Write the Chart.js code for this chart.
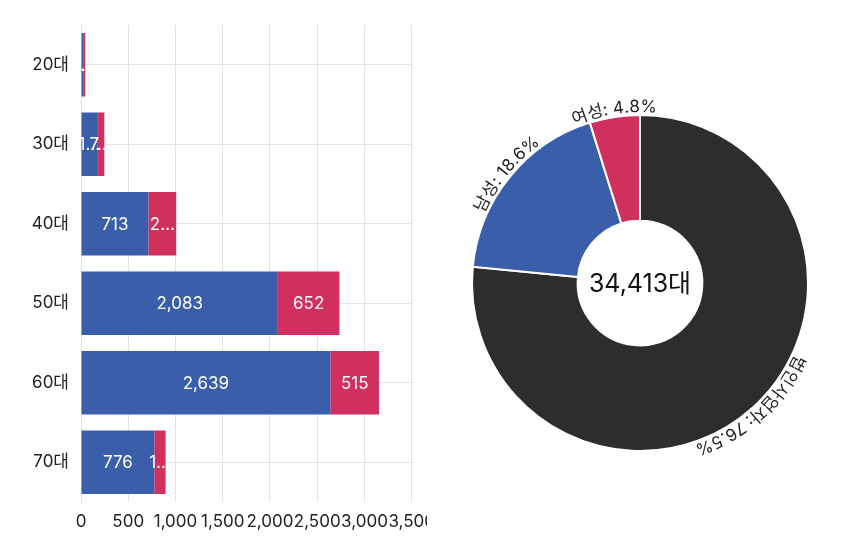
<!DOCTYPE html>
<html lang="ko">
<head>
    <meta charset="utf-8">
    <title>연령대별 / 성별 현황</title>
    <script src="https://cdn.jsdelivr.net/npm/chart.js"></script>
    <style>
        html, body { margin: 0; padding: 0; background: #fff; }
        body { width: 850px; height: 543px; position: relative; overflow: hidden; }
        .bars { position: absolute; left: 0; top: 0; width: 427px; height: 543px; overflow: hidden; }
        .bars canvas { position: absolute; left: 0; top: 0; }
        .donut { position: absolute; left: 430px; top: 0; width: 420px; height: 543px; }
    </style>
</head>
<body>
    <div class="bars">
        <canvas id="barChart" width="445" height="543"></canvas>
    </div>
    <div class="donut">
        <canvas id="donutChart" width="420" height="543"></canvas>
    </div>

    <script>
        // 연령대별 남/여
        const ageGroups = ['20대', '30대', '40대', '50대', '60대', '70대'];
        const maleCounts = [30, 170, 713, 2083, 2639, 776];
        const femaleCounts = [15, 77, 295, 652, 515, 119];

        // 전체 구성
        const ownerTypes = ['법인사업자', '남성', '여성'];
        const ownerCounts = [26342, 6411, 1660];
        const totalLabel = '34,413대';

        const BLUE = '#3a5ea9';
        const RED = '#d1305e';
        const DARK = '#2d2d2d';
        const FONT = "Inter, 'Noto Sans CJK KR', sans-serif";

        Chart.defaults.font.family = FONT;
        Chart.defaults.color = '#222';

        // 막대 안에 값 표시 (좁으면 … 로 줄임)
        const barLabels = {
            id: 'barLabels',
            afterDatasetsDraw(chart) {
                const ctx = chart.ctx;
                ctx.save();
                ctx.font = '17px ' + FONT;
                ctx.fillStyle = '#fff';
                ctx.textAlign = 'center';
                ctx.textBaseline = 'middle';
                chart.data.datasets.forEach(function (ds, i) {
                    chart.getDatasetMeta(i).data.forEach(function (bar, j) {
                        const full = ds.data[j].toLocaleString('en-US');
                        const w = Math.abs(bar.x - bar.base);
                        let txt = full;
                        if (ctx.measureText(full).width > w - 8) {
                            for (let n = full.length - 1; n >= 1; n--) {
                                txt = full.slice(0, n) + '…';
                                if (ctx.measureText(txt).width <= w - 8) break;
                            }
                        }
                        ctx.fillText(txt, (bar.x + bar.base) / 2, bar.y + 1);
                    });
                });
                ctx.restore();
            }
        };

        new Chart(document.getElementById('barChart'), {
            type: 'bar',
            data: {
                labels: ageGroups,
                datasets: [
                    { label: '남성', data: maleCounts, backgroundColor: BLUE, barPercentage: 1, categoryPercentage: 0.8 },
                    { label: '여성', data: femaleCounts, backgroundColor: RED, barPercentage: 1, categoryPercentage: 0.8 }
                ]
            },
            options: {
                indexAxis: 'y',
                responsive: false,
                animation: false,
                layout: { padding: { top: 25, right: 29, bottom: 0, left: 0 } },
                plugins: { legend: { display: false }, tooltip: { enabled: false } },
                scales: {
                    x: {
                        stacked: true,
                        min: 0,
                        max: 3500,
                        ticks: { stepSize: 500, padding: 10, color: '#222', font: { size: 17 },
                                 maxRotation: 0, minRotation: 0, autoSkip: false },
                        grid: { color: '#e3e3e3', drawTicks: false },
                        border: { display: false },
                        afterFit: function (scale) { scale.height = 41; }
                    },
                    y: {
                        stacked: true,
                        ticks: { padding: 12, color: '#222', font: { size: 17 } },
                        grid: { color: '#e3e3e3', drawTicks: false, offset: false },
                        border: { color: '#e3e3e3' },
                        afterFit: function (scale) { scale.width = 81; }
                    }
                }
            },
            plugins: [barLabels]
        });

        // 도넛 바깥쪽 곡선 라벨 + 가운데 합계
        const arcLabels = {
            id: 'arcLabels',
            afterDatasetsDraw(chart) {
                const ctx = chart.ctx;
                const meta = chart.getDatasetMeta(0);
                const data = chart.data.datasets[0].data;
                const sum = data.reduce(function (a, b) { return a + b; }, 0);
                ctx.save();
                ctx.font = '17px ' + FONT;
                ctx.fillStyle = '#222';
                ctx.textAlign = 'center';
                ctx.textBaseline = 'alphabetic';
                meta.data.forEach(function (arc, i) {
                    const text = chart.data.labels[i] + ': ' + (data[i] / sum * 100).toFixed(1) + '%';
                    const r = arc.outerRadius + 3;
                    const mid = (arc.startAngle + arc.endAngle) / 2;
                    const total = ctx.measureText(text).width;
                    let acc = 0;
                    for (const ch of text) {
                        const cw = ctx.measureText(ch).width;
                        const a = mid - total / (2 * r) + (acc + cw / 2) / r;
                        ctx.save();
                        ctx.translate(arc.x + Math.cos(a) * r, arc.y + Math.sin(a) * r);
                        ctx.rotate(a + Math.PI / 2);
                        ctx.fillText(ch, 0, 0);
                        ctx.restore();
                        acc += cw;
                    }
                });
                const c = meta.data[0];
                ctx.font = '25px ' + FONT;
                ctx.fillStyle = '#111';
                ctx.textBaseline = 'middle';
                ctx.fillText(totalLabel, c.x, c.y + 1);
                ctx.restore();
            }
        };

        new Chart(document.getElementById('donutChart'), {
            type: 'doughnut',
            data: {
                labels: ownerTypes,
                datasets: [{
                    data: ownerCounts,
                    backgroundColor: [DARK, BLUE, RED],
                    borderColor: '#fff',
                    borderWidth: 2
                }]
            },
            options: {
                responsive: false,
                animation: false,
                radius: 168,
                cutout: 62,
                layout: { padding: { top: 115, bottom: 92 } },
                plugins: { legend: { display: false }, tooltip: { enabled: false } }
            },
            plugins: [arcLabels]
        });
    </script>
</body>
</html>
